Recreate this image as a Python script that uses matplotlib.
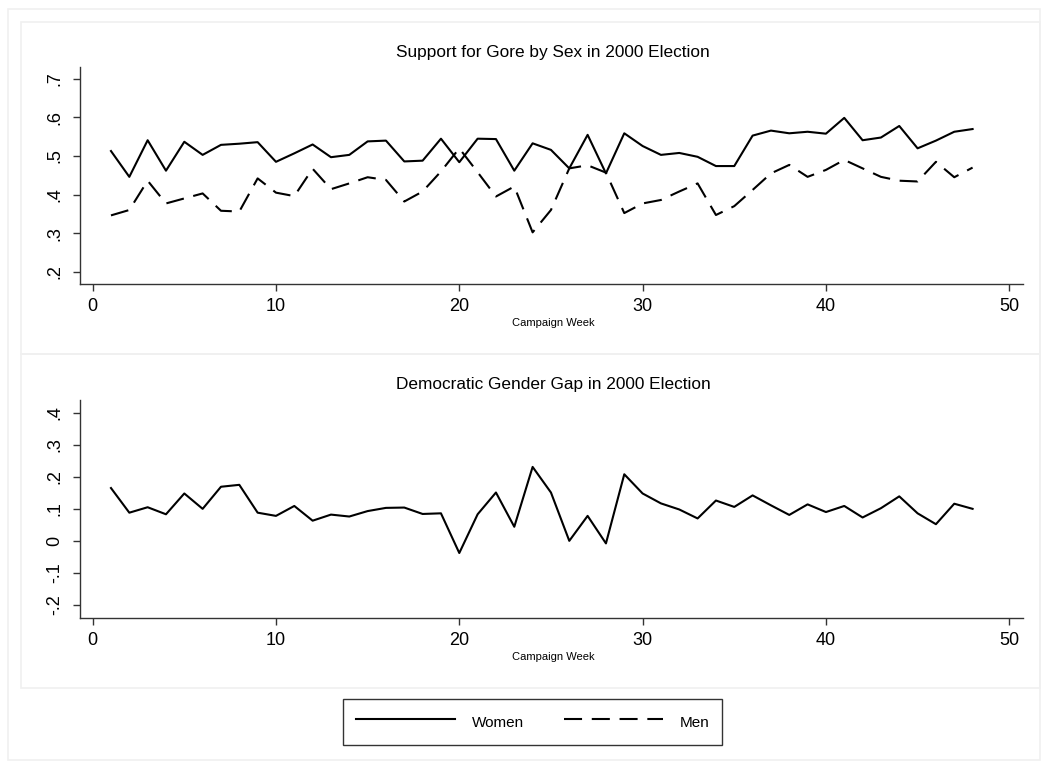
import matplotlib
matplotlib.use("Agg")
import matplotlib.pyplot as plt
from matplotlib.lines import Line2D
from matplotlib.patches import Rectangle

plt.rcParams['font.family'] = ['Liberation Sans', 'DejaVu Sans']
plt.rcParams['lines.scale_dashes'] = False

weeks = [1, 2, 3, 4, 5, 6, 7, 8, 9, 10, 11, 12, 13, 14, 15, 16,
         17, 18, 19, 20, 21, 22, 23, 24, 25, 26, 27, 28, 29, 30, 31, 32,
         33, 34, 35, 36, 37, 38, 39, 40, 41, 42, 43, 44, 45, 46, 47, 48]

women = [0.513, 0.446, 0.541, 0.462, 0.537, 0.503, 0.529, 0.532, 0.536, 0.485,
         0.507, 0.530, 0.497, 0.503, 0.538, 0.540, 0.486, 0.488, 0.545, 0.484,
         0.545, 0.544, 0.462, 0.533, 0.516, 0.468, 0.555, 0.455, 0.559, 0.526,
         0.503, 0.508, 0.498, 0.474, 0.474, 0.553, 0.566, 0.559, 0.563, 0.558,
         0.599, 0.541, 0.548, 0.578, 0.520, 0.540, 0.563, 0.570]

men = [0.346, 0.360, 0.436, 0.377, 0.390, 0.403, 0.358, 0.356, 0.442, 0.405,
       0.396, 0.467, 0.414, 0.429, 0.445, 0.438, 0.382, 0.408, 0.460, 0.520,
       0.458, 0.395, 0.421, 0.302, 0.360, 0.468, 0.476, 0.457, 0.352, 0.377,
       0.386, 0.408, 0.429, 0.347, 0.370, 0.412, 0.455, 0.477, 0.446, 0.464,
       0.490, 0.468, 0.446, 0.436, 0.434, 0.485, 0.445, 0.470]

gap = [0.165, 0.088, 0.105, 0.083, 0.148, 0.100, 0.169, 0.175, 0.088, 0.078,
       0.109, 0.063, 0.082, 0.076, 0.093, 0.103, 0.104, 0.084, 0.086, -0.038,
       0.083, 0.151, 0.044, 0.231, 0.151, 0.000, 0.078, -0.008, 0.208, 0.148,
       0.117, 0.098, 0.070, 0.126, 0.106, 0.142, 0.111, 0.081, 0.114, 0.090,
       0.109, 0.073, 0.102, 0.139, 0.086, 0.052, 0.116, 0.100]

x_ticks = [0, 10, 20, 30, 40, 50]
top_ticks = [0.2, 0.3, 0.4, 0.5, 0.6, 0.7]
top_labels = ['.2', '.3', '.4', '.5', '.6', '.7']
bot_ticks = [-0.2, -0.1, 0.0, 0.1, 0.2, 0.3, 0.4]
bot_labels = ['-.2', '-.1', '0', '.1', '.2', '.3', '.4']

W, H = 1045, 768
fig = plt.figure(figsize=(W / 100, H / 100), dpi=100)
fig.patch.set_facecolor('white')


def px_box(x0, y0, x1, y1):
    # pixel box (top-left origin) -> figure fraction rect
    return [x0 / W, 1 - y1 / H, (x1 - x0) / W, (y1 - y0) / H]


# faint frames, like a combined Stata graph
frame_col = '#f0f0f0'
for (x0, y0, x1, y1) in [(8, 9, 1040, 760), (21, 22, 1040, 354), (21, 354, 1040, 688)]:
    r = px_box(x0, y0, x1, y1)
    fig.patches.append(Rectangle((r[0], r[1]), r[2], r[3], transform=fig.transFigure,
                                 fill=False, edgecolor=frame_col, linewidth=1.2))

axis_col = '#333333'
line_kw = dict(color='black', linewidth=1.5)
dash_kw = dict(color='black', linewidth=1.5, dashes=(13, 7))


def style(ax, yt, yl, ylim):
    ax.set_xlim(-0.69, 50.75)
    ax.set_ylim(*ylim)
    ax.set_xticks(x_ticks)
    ax.set_yticks(yt)
    ax.set_yticklabels(yl, rotation=90, va='center')
    for s in ['top', 'right']:
        ax.spines[s].set_visible(False)
    for s in ['left', 'bottom']:
        ax.spines[s].set_color(axis_col)
        ax.spines[s].set_linewidth(1.0)
    ax.tick_params(axis='both', colors=axis_col, labelcolor='black',
                   labelsize=13, length=5, width=1.0, direction='out')
    ax.tick_params(axis='x', pad=5)
    ax.tick_params(axis='y', pad=7)
    ax.set_facecolor('white')


ax1 = fig.add_axes(px_box(80, 67, 1023, 284))
ax1.plot(weeks, women, **line_kw)
ax1.plot(weeks, men, **dash_kw)
style(ax1, top_ticks, top_labels, (0.168, 0.731))

ax2 = fig.add_axes(px_box(80, 400, 1023, 618))
ax2.plot(weeks, gap, **line_kw)
style(ax2, bot_ticks, bot_labels, (-0.241, 0.44))

fig.text(553 / W, 1 - 52 / H, 'Support for Gore by Sex in 2000 Election',
         ha='center', va='center', fontsize=12.4)
fig.text(553 / W, 1 - 384 / H, 'Democratic Gender Gap in 2000 Election',
         ha='center', va='center', fontsize=12.4)
fig.text(553 / W, 1 - 323 / H, 'Campaign Week', ha='center', va='center', fontsize=8)
fig.text(553 / W, 1 - 657 / H, 'Campaign Week', ha='center', va='center', fontsize=8)

handles = [Line2D([], [], **line_kw), Line2D([], [], **dash_kw)]
leg = fig.legend(handles, ['Women', 'Men'], ncol=2, loc='center',
                 bbox_to_anchor=(532.5 / W, 1 - 722 / H), fontsize=11,
                 frameon=True, fancybox=False, shadow=False,
                 handlelength=6.5, handleheight=1.7, handletextpad=1.1,
                 columnspacing=2.6, borderpad=0.8)
leg.get_frame().set_edgecolor('black')
leg.get_frame().set_linewidth(1.0)

fig.savefig('out.png', dpi=100)
